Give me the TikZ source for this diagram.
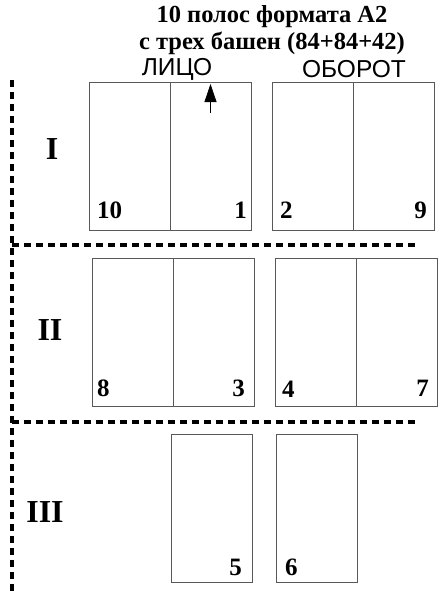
\documentclass[tikz,border=0pt]{standalone}
\usepackage{fontspec}
\setmainfont{Liberation Serif}
\newfontfamily\sansfont{Liberation Sans}
\usetikzlibrary{arrows.meta,positioning}

\begin{document}
\begin{tikzpicture}[x=1pt, y=1pt,
  page/.style={draw=black!65, line width=0.9pt, minimum width=81pt, minimum height=148pt,
    inner sep=0pt, outer sep=0pt, anchor=north west},
  num/.style={font=\fontsize{25}{25}\selectfont\bfseries, inner sep=0pt},
  roman/.style={font=\fontsize{32}{32}\selectfont\bfseries, inner sep=0pt},
  side/.style={font=\fontsize{24.5}{24.5}\selectfont\sansfont, inner sep=0pt},
  sep/.style={line width=3.5pt, dash pattern=on 7pt off 5pt},
  up/.style={-{Triangle[length=18pt, width=12pt]}, line width=0.8pt}
]
\useasboundingbox (0,0) rectangle (440,-594);
% title
\node[align=center, font=\fontsize{24.5}{27}\selectfont\bfseries] (title) at (272,-30)
  {10 полос формата А2\\с трех башен (84+84+42)};
\node[side] (face) at (177,-69) {ЛИЦО};
\node[side] (back) at (354,-69) {ОБОРОТ};

% tower I
\node[page] (p10) at (89,-82) {};
\node[page, right=0pt of p10] (p1) {};
\node[page, right=21pt of p1] (p2) {};
\node[page, right=0pt of p2] (p9) {};
\node[num, above right=11pt and 8pt of p10.south west] {10};
\node[num, above left=11pt and 4pt of p1.south east] {1};
\node[num, above right=11pt and 8pt of p2.south west] {2};
\node[num, above left=11pt and 7pt of p9.south east] {9};
\node[roman] (r1) at (52,-149) {I};
\coordinate[below=31pt of p1.north] (tail);
\coordinate[below=2pt of p1.north] (tip);
\draw[up] (tail) -- (tip);

% tower II
\node[page] (p8) at (92,-258) {};
\node[page, right=0pt of p8] (p3) {};
\node[page, right=21pt of p3] (p4) {};
\node[page, right=0pt of p4] (p7) {};
\node[num, above right=9pt and 5pt of p8.south west] {8};
\node[num, above left=9pt and 9pt of p3.south east] {3};
\node[num, above right=8pt and 7pt of p4.south west] {4};
\node[num, above left=9pt and 8pt of p7.south east] {7};
\node[roman] (r2) at (50,-330) {II};

% tower III
\node[page] (p5) at (171,-434) {};
\node[page, right=24pt of p5] (p6) {};
\node[num, above left=6pt and 10pt of p5.south east] {5};
\node[num, above right=6pt and 9pt of p6.south west] {6};
\node[roman] (r3) at (45,-512) {III};

% separators
\draw[sep] (12,-80) -- (12,-594);
\draw[sep] (12,-245) -- (418,-245);
\draw[sep] (12,-422) -- (418,-422);
\end{tikzpicture}
\end{document}
